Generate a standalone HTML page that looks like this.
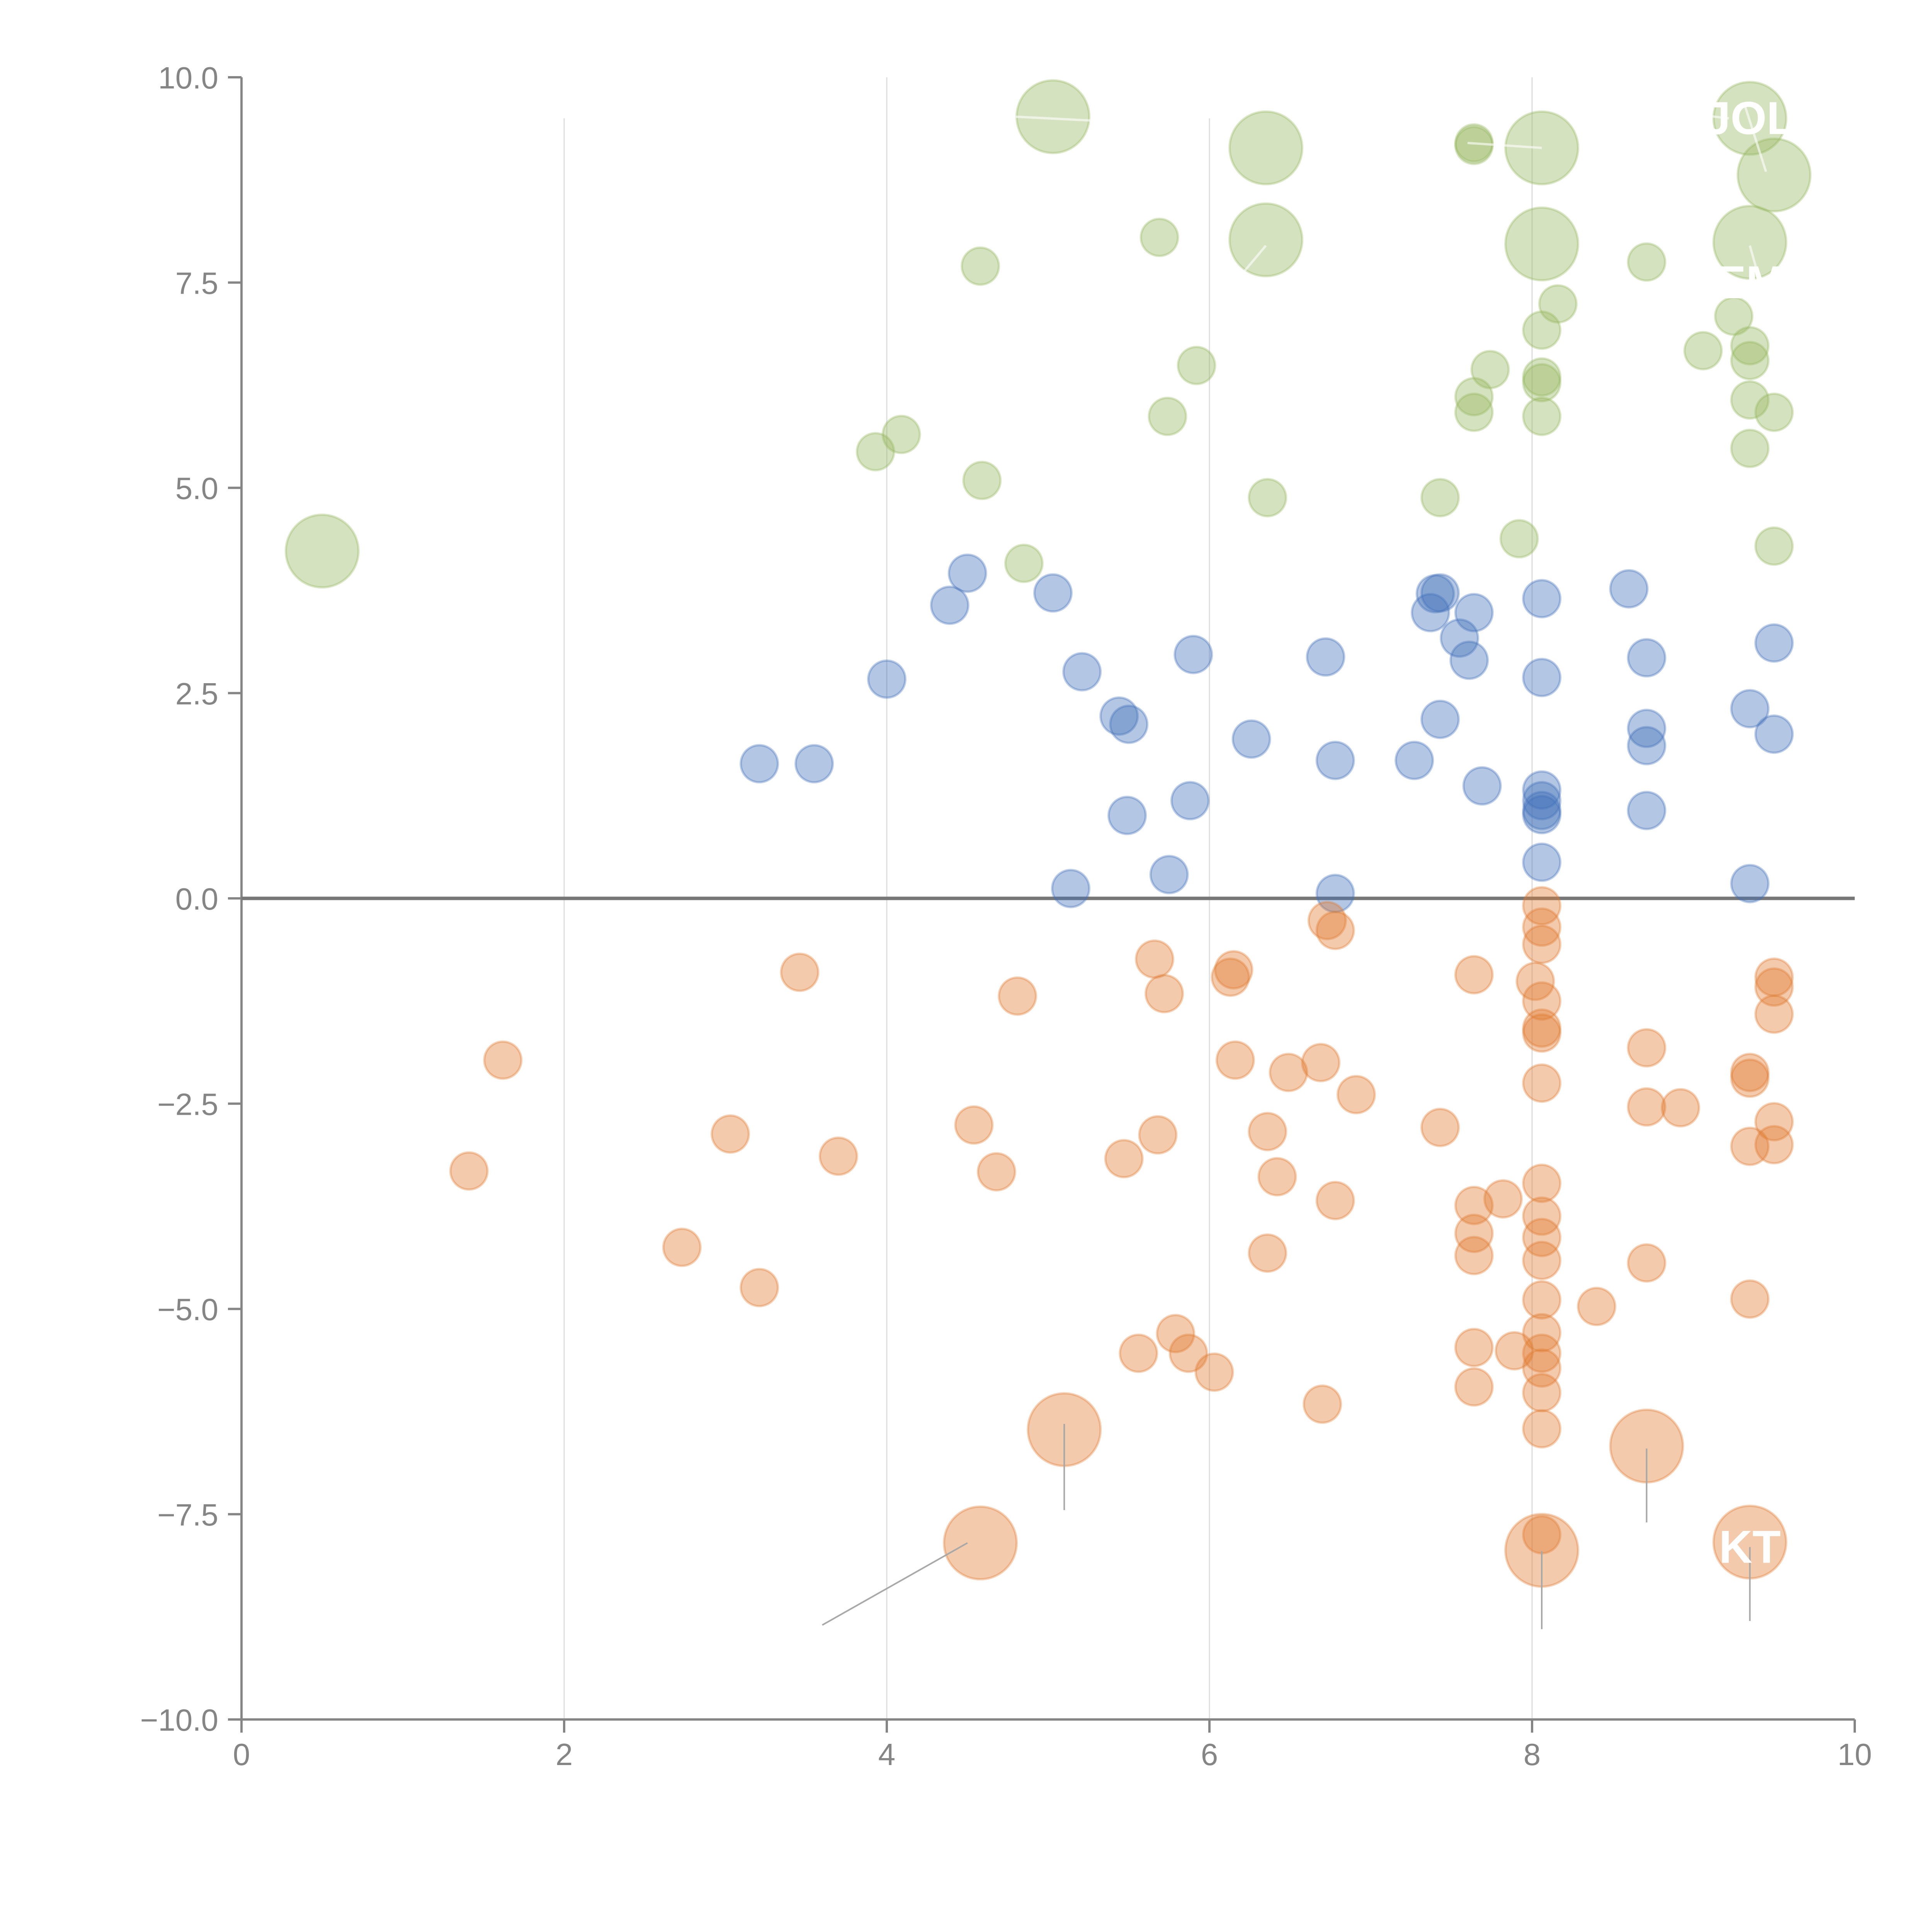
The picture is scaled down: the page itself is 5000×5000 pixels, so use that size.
<!DOCTYPE html>
<html><head><meta charset="utf-8"><style>
html,body{margin:0;padding:0;background:#fff;width:5000px;height:5000px;overflow:hidden}
svg{display:block}
text{font-family:"Liberation Sans",sans-serif}
</style></head><body>
<svg id="chart" xmlns="http://www.w3.org/2000/svg" width="5000" height="5000" viewBox="0 0 5000 5000">
<g id="grid"></g>
<g id="axes"></g>
<g id="marks"></g>
<g id="ann"></g>
</svg>
<script>
const xTicks=[0,2,4,6,8,10];
const xTickLabels=["0","2","4","6","8","10"];
const yTicks=[-10,-7.5,-5,-2.5,0,2.5,5,7.5,10];
const yTickLabels=["\u221210.0","\u22127.5","\u22125.0","\u22122.5","0.0","2.5","5.0","7.5","10.0"];
const greenX=[0.50,5.03,6.35,6.35,8.06,8.06,9.35,9.50,9.35,4.58,5.69,7.64,7.64,8.71,8.16,9.25,9.06,9.35,9.35,9.35,9.50,9.35,9.50,8.06,8.06,8.06,8.06,7.74,7.64,7.64,7.92,7.43,6.36,5.92,5.74,4.09,3.93,4.59,4.85];
const greenY=[4.23,9.52,9.14,8.02,9.14,7.97,9.50,8.81,7.99,7.70,8.05,9.20,9.17,7.75,7.24,7.09,6.67,6.73,6.55,6.07,5.92,5.48,4.29,6.92,6.35,6.28,5.87,6.44,6.11,5.92,4.38,4.88,4.88,6.49,5.87,5.65,5.44,5.09,4.08];
const greenS=[2,2,2,2,2,2,2,2,2,1,1,1,1,1,1,1,1,1,1,1,1,1,1,1,1,1,1,1,1,1,1,1,1,1,1,1,1,1,1];
const blueX=[4.50,4.39,5.03,4.00,3.21,3.55,5.21,5.44,5.50,5.90,6.26,5.49,5.88,5.75,5.14,6.72,6.78,6.78,7.27,7.37,7.40,7.43,7.55,7.64,7.61,7.43,7.69,8.06,8.06,8.06,8.06,8.06,8.06,8.06,8.60,8.71,8.71,8.71,8.71,9.35,9.50,9.50,9.35];
const blueY=[3.96,3.57,3.72,2.67,1.64,1.64,2.76,2.22,2.12,2.97,1.94,1.01,1.19,0.29,0.12,2.94,1.68,0.06,1.68,3.48,3.71,3.72,3.17,3.48,2.90,2.18,1.37,3.65,2.69,1.32,1.19,1.07,1.02,0.44,3.77,2.93,2.07,1.86,1.07,2.31,3.11,2.00,0.18];
const orangeX=[5.10,4.58,8.71,8.06,9.35,1.62,1.41,2.73,3.03,3.21,3.46,3.70,4.54,4.68,4.81,5.47,5.56,5.66,5.72,5.68,5.79,5.87,6.03,6.13,6.15,6.16,6.36,6.42,6.36,6.49,6.69,6.73,6.78,6.91,6.78,6.70,7.43,7.64,7.64,7.64,7.64,7.64,7.64,7.82,7.89,8.02,8.06,8.06,8.06,8.06,8.06,8.06,8.06,8.06,8.06,8.06,8.06,8.06,8.06,8.06,8.06,8.06,8.06,8.06,8.40,8.71,8.71,8.92,8.71,9.35,9.35,9.35,9.35,9.50,9.50,9.50,9.50,9.50];
const orangeY=[-6.47,-7.85,-6.67,-7.94,-7.84,-1.97,-3.32,-4.25,-2.87,-4.74,-0.90,-3.14,-2.76,-3.33,-1.19,-3.17,-5.54,-0.74,-1.16,-2.88,-5.30,-5.54,-5.77,-0.96,-0.87,-1.97,-2.84,-3.39,-4.32,-2.12,-2.00,-0.27,-0.39,-2.39,-3.68,-6.16,-2.79,-0.93,-3.74,-4.08,-4.35,-5.47,-5.95,-3.66,-5.51,-1.01,-0.09,-0.35,-0.56,-1.25,-1.58,-1.64,-2.25,-3.47,-3.87,-4.13,-4.41,-4.89,-5.29,-5.54,-5.72,-6.02,-6.46,-7.75,-4.97,-1.82,-2.54,-2.55,-4.44,-2.12,-2.19,-3.02,-4.88,-0.96,-1.08,-1.41,-2.72,-3.00];
const orangeS=[2,2,2,2,2];
const NS="http://www.w3.org/2000/svg";
const X0=625,X1=4800,Y0=4450,Y1=200;
function sx(v){return X0+(v-0)/(10-0)*(X1-X0);}
function sy(v){return Y0-(v+10)/20*(Y0-Y1);}
function mk(tag,attrs,parent){const e=document.createElementNS(NS,tag);for(const k in attrs)e.setAttribute(k,attrs[k]);parent.appendChild(e);return e;}
const grid=document.getElementById('grid'),axes=document.getElementById('axes'),marks=document.getElementById('marks'),ann=document.getElementById('ann');
[2,4,6,8].forEach(v=>{
  const l=mk('line',{x1:sx(v),x2:sx(v),y1:(v===4||v===8)?sy(10):sy(9.5),y2:Y0,stroke:'#dcdcdc','stroke-width':3},grid);
  
  
});
let a=mk('line',{x1:X0,x2:X0,y1:Y1,y2:Y0,stroke:'#858585','stroke-width':6},axes);


a=mk('line',{x1:X0,x2:X1,y1:Y0,y2:Y0,stroke:'#858585','stroke-width':6},axes);


xTicks.forEach((v,i)=>{
  const t=mk('line',{x1:sx(v),x2:sx(v),y1:Y0,y2:Y0+34,stroke:'#858585','stroke-width':6},axes);
  
  
  const tx=mk('text',{x:sx(v),y:4568,'text-anchor':'middle','font-size':80,fill:'#858585'},axes);
  tx.textContent=xTickLabels[i];
  
  
});
yTicks.forEach((v,i)=>{
  const t=mk('line',{x1:X0-35,x2:X0,y1:sy(v),y2:sy(v),stroke:'#858585','stroke-width':6},axes);
  
  
  const tx=mk('text',{x:X0-60,y:sy(v)+29,'text-anchor':'end','font-size':80,fill:'#858585'},axes);
  tx.textContent=yTickLabels[i];
  
  
});
function drawSeries(xs,ys,sizes,color,name){
  xs.forEach((x,i)=>{
    const big=(sizes[i]||1)===2;
    const c=mk('circle',{cx:sx(x),cy:sy(ys[i]),r:big?94:48,fill:color,'fill-opacity':0.4,stroke:color,'stroke-opacity':0.35,'stroke-width':6},marks);
    
    
  });
}
drawSeries(greenX,greenY,greenS,'#96b75f','green');
drawSeries(blueX,blueY,[],'#4171b9','blue');
drawSeries(orangeX,orangeY,orangeS,'#e07b30','orange');
let z=mk('line',{x1:X0,x2:X1,y1:sy(0),y2:sy(0),stroke:'#777777','stroke-width':9},axes);


const leaders=[[5.10,-6.4,5.10,-7.45],[8.71,-6.7,8.71,-7.6],[8.06,-7.95,8.06,-8.9],[9.35,-7.9,9.35,-8.8],[4.5,-7.85,3.6,-8.85]];
leaders.forEach(l=>{
  const e=mk('line',{x1:sx(l[0]),y1:sy(l[1]),x2:sx(l[2]),y2:sy(l[3]),stroke:'#a8a8a8','stroke-width':4},ann);
  
  
});
const wl=[[9.0,9.55,9.22,9.5],[9.32,9.65,9.45,8.85],[9.35,7.95,9.4,7.6],[6.35,7.95,6.2,7.6],[4.8,9.52,5.5,9.45],[7.6,9.2,8.06,9.14]];
wl.forEach(l=>{
  const e=mk('line',{x1:sx(l[0]),y1:sy(l[1]),x2:sx(l[2]),y2:sy(l[3]),stroke:'#ffffff','stroke-opacity':0.6,'stroke-width':6},ann);
  
  
});
const labs=[["JOL",9.35,9.45],["EM",9.35,7.45],["KT",9.35,-7.95]];
labs.forEach(l=>{
  const t=mk('text',{x:sx(l[1]),y:sy(l[2])+30,'text-anchor':'middle','font-size':120,'font-weight':'bold',fill:'#ffffff'},ann);
  t.textContent=l[0];
  
  
});
</script>
</body></html>
